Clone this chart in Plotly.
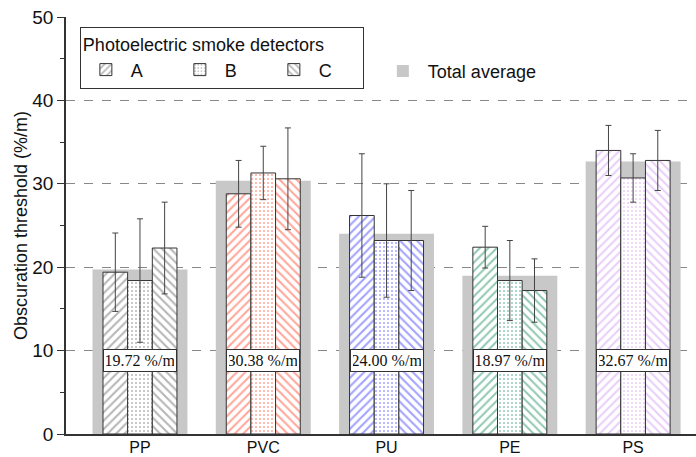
import plotly.graph_objects as go

categories = ["PP", "PVC", "PU", "PE", "PS"]
det_a = [19.4, 28.8, 26.2, 22.4, 34.0]
det_a_err = [4.7, 4.0, 7.4, 2.5, 3.0]
det_b = [18.4, 31.3, 23.2, 18.4, 30.7]
det_b_err = [7.4, 3.2, 6.8, 4.8, 2.9]
det_c = [22.3, 30.6, 23.2, 17.2, 32.8]
det_c_err = [5.5, 6.1, 6.0, 3.8, 3.6]
total_avg = [19.72, 30.38, 24.00, 18.97, 32.67]
avg_labels = ["19.72 %/m", "30.38 %/m", "24.00 %/m", "18.97 %/m", "32.67 %/m"]
cat_colors = ["#6e6e6e", "#ff5038", "#4646ff", "#23946a", "#d49ef2"]

fig = go.Figure()

fig.add_trace(go.Bar(
    x=categories, y=total_avg, name="Total average",
    marker=dict(color="#c8c8c8", line=dict(width=0)),
    width=0.77, offset=-0.385, legend="legend2", hoverinfo="skip",
))

series = [("A", det_a, det_a_err, "/", -0.3),
          ("B", det_b, det_b_err, ".", -0.1),
          ("C", det_c, det_c_err, "\\", 0.1)]
for name, vals, errs, shape, off in series:
    is_dot = shape == "."
    fig.add_trace(go.Bar(
        x=categories, y=vals, name=name,
        width=0.2, offset=off,
        marker=dict(
            color="white",
            line=dict(color="#333333", width=1),
            pattern=dict(shape=shape, fgcolor=cat_colors, bgcolor="white",
                         size=4 if is_dot else 6,
                         solidity=0.2 if is_dot else 0.35,
                         fillmode="overlay"),
        ),
        error_y=dict(type="data", array=errs, color="#444444", thickness=1, width=3),
        legend="legend",
    ))

for cat, lab in zip(categories, avg_labels):
    fig.add_annotation(
        x=cat, y=8.85, text=lab, showarrow=False, xref="x", yref="y",
        font=dict(family="Liberation Serif, Times New Roman, serif", size=16, color="#111"),
        bgcolor="white", bordercolor="#333333", borderwidth=1, borderpad=2,
        width=68,
    )

fig.update_layout(
    width=696, height=457,
    margin=dict(l=66, r=0, t=17, b=23),
    paper_bgcolor="white", plot_bgcolor="white",
    barmode="overlay",
    font=dict(family="Liberation Sans, Arial, sans-serif", size=15, color="#111"),
    xaxis=dict(
        range=[-0.6, 4.51], showgrid=False, showline=True, linecolor="#333",
        linewidth=1.5, ticks="", tickfont=dict(size=16), automargin=False,
        ticklabelstandoff=-2,
    ),
    yaxis=dict(
        range=[0, 50], tickvals=[0, 10, 20, 30, 40, 50], showgrid=True,
        gridcolor="#888888", griddash="dash", gridwidth=1,
        showline=True, linecolor="#333", linewidth=1.5,
        ticks="outside", ticklen=7, tickcolor="#333",
        minor=dict(tickvals=[5, 15, 25, 35, 45], ticks="outside", ticklen=4, tickcolor="#333"),
        tickfont=dict(size=19),
        title=dict(text="Obscuration threshold (%/m)", font=dict(size=18), standoff=0),
        zeroline=False, automargin=False,
    ),
    legend=dict(
        x=0.022, y=0.976, xanchor="left", yanchor="top",
        orientation="h", bordercolor="#333", borderwidth=1, bgcolor="white",
        title=dict(text="Photoelectric smoke detectors", side="top", font=dict(size=18)),
        entrywidth=39, entrywidthmode="pixels", font=dict(size=18),
        itemwidth=40, traceorder="normal",
    ),
    legend2=dict(
        x=0.495, y=0.914, xanchor="left", yanchor="top",
        orientation="h", bgcolor="rgba(0,0,0,0)", font=dict(size=18), itemwidth=40,
    ),
    showlegend=True,
)

fig.write_html("out.html")
